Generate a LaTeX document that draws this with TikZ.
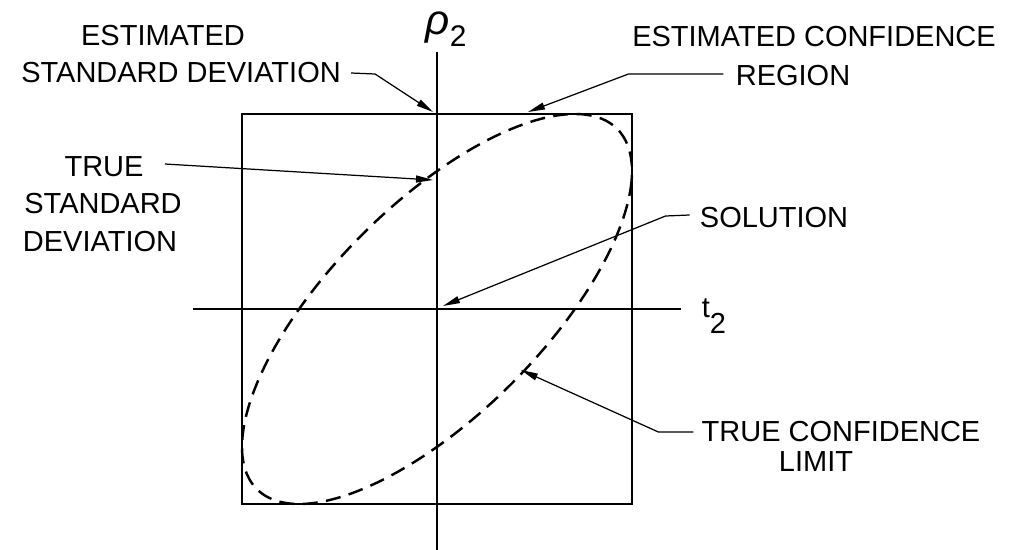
\documentclass[tikz,border=0pt]{standalone}
\usepackage{fontspec}
\setmainfont{Liberation Sans}
\usetikzlibrary{arrows.meta}
\begin{document}
\begin{tikzpicture}[x=0.02cm,y=-0.02cm,
  lbl/.style={inner sep=0pt, font=\fontsize{16.5}{22}\selectfont},
  conn/.style={line width=0.7pt, -{Triangle[length=0.34cm,width=0.14cm]}},
  frame/.style={line width=1.1pt},
  axisline/.style={line width=0.9pt},
  ell/.style={line width=1.4pt, dash pattern=on 0.3cm off 0.17cm}]
\useasboundingbox (0,0) rectangle (1016,550);
% labels
\node[lbl] (est1) at (163,36) {ESTIMATED};
\node[lbl] (est2) at (181,73) {STANDARD DEVIATION};
\node[lbl] (tsd1) at (104,167) {TRUE};
\node[lbl] (tsd2) at (103,204) {STANDARD};
\node[lbl] (tsd3) at (100,242) {DEVIATION};
\node[lbl] (ecr1) at (814,37) {ESTIMATED CONFIDENCE};
\node[lbl] (ecr2) at (793,76) {REGION};
\node[lbl] (sol) at (774,218) {SOLUTION};
\node[lbl] (tcl1) at (841,432) {TRUE CONFIDENCE};
\node[lbl] (tcl2) at (816,462) {LIMIT};
\node[inner sep=0pt] (rho) at (446,29) {\fontsize{24}{24}\selectfont\textit{ρ}\raisebox{-0.3em}{\fontsize{17}{17}\selectfont 2}};
\node[lbl] (t2) at (714,316) {t\raisebox{-0.55em}{2}};
% axes and frame
\coordinate (vt) at (437,52);
\coordinate (vb) at (437,550);
\coordinate (hl) at (193,309);
\coordinate (hr) at (681,309);
\draw[axisline] (vt) -- (vb);
\draw[axisline] (hl) -- (hr);
\draw[frame] (242,114) rectangle (632,504);
% ellipse
\draw[ell] plot[smooth cycle, domain=0:356, samples=90] ({437+195*cos(\x)},{309-195*cos(\x+45)});
% arrow tips
\coordinate (tipA) at (433,112);
\coordinate (tipB) at (433,180);
\coordinate (tipC) at (528,112);
\coordinate (tipD) at (443,306);
\coordinate (tipE) at (521,370);
% connectors
\draw[conn] ([xshift=0.2cm]est2.east) -- ++(24,1) -- (tipA);
\draw[conn] ([xshift=0.42cm,yshift=0.06cm]tsd1.east) -- (tipB);
\draw[conn] ([xshift=-0.24cm,yshift=0.04cm]ecr2.west) -- ++(-95,0) -- (tipC);
\draw[conn] ([xshift=-0.2cm,yshift=0.06cm]sol.west) -- ++(-24,1) -- (tipD);
\draw[conn] ([xshift=-0.16cm]tcl1.west) -- ++(-35,0) -- (tipE);
\end{tikzpicture}
\end{document}
